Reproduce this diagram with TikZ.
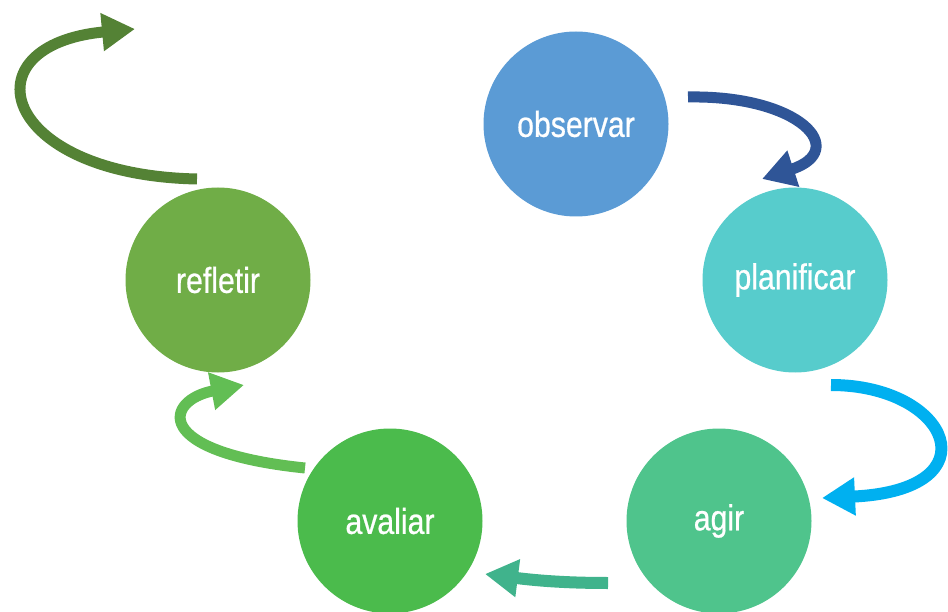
\documentclass[tikz,border=0pt]{standalone}
\usepackage{fontspec}
\setmainfont[FakeStretch=0.84,FakeBold=0.6]{Liberation Sans}
\usetikzlibrary{arrows.meta}
\definecolor{cObs}{HTML}{5B9BD5}
\definecolor{cPla}{HTML}{57CCCC}
\definecolor{cAgi}{HTML}{4FC48C}
\definecolor{cAva}{HTML}{4BBB4C}
\definecolor{cRef}{HTML}{70AD47}
\definecolor{aObs}{HTML}{2F5597}
\definecolor{aPla}{HTML}{00B0F0}
\definecolor{aAgi}{HTML}{40B38C}
\definecolor{aAva}{HTML}{62BE54}
\definecolor{aRef}{HTML}{548235}
\tikzset{
  stage/.style={circle, minimum size=185pt, inner sep=0pt, fill=#1, text=white,
    font=\fontsize{36}{42}\selectfont},
  cyclearrow/.style={draw=#1, line width=12pt,
    -{Triangle[width=36pt,length=33pt,fill=#1]}}
}
\begin{document}
\begin{tikzpicture}[x=1pt,y=-1pt]
\useasboundingbox (0,0) rectangle (948,612);
\node[stage=cObs] (obs) at (576,124) {observar};
\node[stage=cPla] (pla) at (795,280) {planificar};
\node[stage=cAgi] (agi) at (719,521) {agir};
\node[stage=cAva] (ava) at (390,521) {avaliar};
\node[stage=cRef] (ref) at (218,280) {refletir};
\coordinate (s1) at (688,97);  \coordinate (t1) at (762,179);
\coordinate (s2) at (831,385); \coordinate (t2) at (822,498);
\coordinate (s3) at (608,583); \coordinate (t3) at (485,574);
\coordinate (s4) at (305,468); \coordinate (t4) at (244,385);
\coordinate (s5) at (197,179); \coordinate (t5) at (135,29);
\draw[cyclearrow=aObs, line width=11pt] (s1) .. controls (800,95) and (850,150) .. (t1);
\draw[cyclearrow=aPla] (s2) .. controls (950,385) and (995,490) .. (t2);
\draw[cyclearrow=aAgi] (s3) .. controls (570,583) and (540,581) .. (t3);
\draw[cyclearrow=aAva, line width=11pt] (s4) .. controls (150,452) and (165,400) .. (t4);
\draw[cyclearrow=aRef, line width=11pt] (s5) .. controls (0,175) and (-35,45) .. (t5);
\end{tikzpicture}
\end{document}
